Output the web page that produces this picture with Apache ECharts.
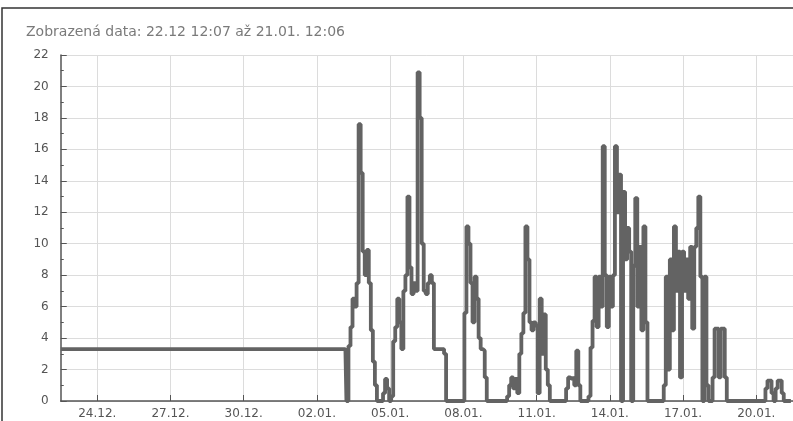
<!DOCTYPE html>
<html>
<head>
<meta charset="utf-8">
<script src="https://cdn.jsdelivr.net/npm/echarts@6/dist/echarts.min.js"></script>
<style>
html,body{margin:0;padding:0;background:#fff;}
#c{width:793px;height:421px;}
</style>
</head>
<body>
<div id="c"></div>
<script>
// Days are counted from 24.12. 00:00
const titleText = 'Zobrazená data: 22.12 12:07 až 21.01. 12:06';
const rangeStartDay = -1.495;   // 22.12 12:07
const rangeEndDay = 28.504;     // 21.01. 12:06
const tickDays = [0, 3, 6, 9, 12, 15, 18, 21, 24, 27];
const tickLabels = ['24.12.', '27.12.', '30.12.', '02.01.', '05.01.', '08.01.', '11.01.', '14.01.', '17.01.', '20.01.'];
const yTicks = [0, 2, 4, 6, 8, 10, 12, 14, 16, 18, 20, 22];

// flat period before measurements
const flatValue = 3.3;
// measured values, one every 2 hours from 03.01. 00:00 (day 10)
const sampleStartDay = 10;
const sampleStepHours = 2;
const values = [
  3.3, 3.3, 3.3, 0, 3.5, 4.7, 6.5, 6.0, 7.5, 17.6,
  14.5, 9.5, 8.0, 9.6, 7.5, 4.5, 2.5, 1.0, 0, 0,
  0, 0.5, 1.4, 0.8, 0, 0.3, 3.8, 4.7, 6.5, 5.0,
  3.3, 7.0, 8.0, 13.0, 8.5, 6.8, 7.5, 7.0, 20.9, 18.0,
  10.0, 7.0, 6.8, 7.5, 8.0, 7.5, 3.3, 3.3, 3.3, 3.3,
  3.3, 3.0, 0, 0, 0, 0, 0, 0, 0, 0,
  0, 5.6, 11.1, 10.0, 7.5, 5.0, 7.9, 6.5, 4.0, 3.3,
  3.2, 1.5, 0, 0, 0, 0, 0, 0, 0, 0,
  0, 0, 0.3, 1.0, 1.5, 0.8, 1.4, 0.5, 3.0, 4.3,
  5.6, 11.1, 9.0, 5.0, 4.5, 5.0, 4.8, 0.5, 6.5, 3.0,
  5.5, 2.0, 1.0, 0, 0, 0, 0, 0, 0, 0,
  0, 0.8, 1.5, 1.4, 1.5, 1.0, 3.2, 1.0, 0, 0,
  0, 0, 0.3, 3.4, 5.1, 7.9, 4.7, 7.9, 6.0, 16.2,
  8.0, 4.7, 7.9, 6.0, 8.0, 16.2, 12.0, 14.4, 0, 13.3,
  9.0, 11.0, 9.5, 0, 8.6, 12.9, 6.0, 9.8, 4.5, 11.1,
  5.0, 0, 0, 0, 0, 0, 0, 0, 0, 1.0,
  7.9, 2.0, 9.0, 4.5, 11.1, 7.0, 9.5, 1.5, 9.5, 7.0,
  9.0, 6.5, 9.8, 4.6, 9.8, 11.0, 13.0, 7.9, 0, 7.9,
  1.0, 0, 0, 1.5, 4.6, 4.6, 1.5, 4.6, 4.6, 1.5,
  0, 0, 0, 0, 0, 0, 0, 0, 0, 0,
  0, 0, 0, 0, 0, 0, 0, 0, 0, 0.8,
  1.3, 1.3, 0.5, 0, 0.8, 1.3, 1.3, 0.5, 0, 0,
  0, 0
];

const seriesData = [[rangeStartDay, flatValue]];
values.forEach(function (v, i) {
  seriesData.push([sampleStartDay + i * sampleStepHours / 24, v]);
});

const chart = echarts.init(document.getElementById('c'), null, {renderer: 'canvas'});
const textColor = '#555';
const font = 'DejaVu Sans, Verdana, sans-serif';

chart.setOption({
  animation: false,
  backgroundColor: '#fff',
  title: {
    text: titleText,
    left: 21,
    top: 20,
    textStyle: {fontFamily: font, fontSize: 14, fontWeight: 'normal', color: '#7a7a7a'}
  },
  graphic: [{
    type: 'rect',
    shape: {x: 2, y: 8, width: 800, height: 430},
    style: {fill: null, stroke: '#333', lineWidth: 1.5},
    silent: true,
    z: 100
  }],
  grid: {left: 60.75, top: 55, width: 733.5, height: 346, containLabel: false},
  xAxis: {
    type: 'value',
    min: rangeStartDay,
    max: rangeEndDay,
    axisLine: {show: true, onZero: false, lineStyle: {color: '#555', width: 1.5}},
    axisTick: {show: true, inside: true, length: 6, customValues: tickDays, lineStyle: {color: '#555'}},
    axisLabel: {
      customValues: tickDays,
      margin: 7,
      color: textColor,
      fontFamily: font,
      fontSize: 12,
      formatter: function (v) {
        const idx = tickDays.indexOf(Math.round(v));
        return idx >= 0 ? tickLabels[idx] : '';
      }
    },
    splitLine: {show: true, lineStyle: {color: '#dcdcdc', width: 1}}
  },
  yAxis: {
    type: 'value',
    min: yTicks[0],
    max: yTicks[yTicks.length - 1],
    interval: 2,
    axisLine: {show: true, onZero: false, lineStyle: {color: '#555', width: 1.5}},
    axisTick: {show: true, inside: true, length: 6, lineStyle: {color: '#555'}},
    minorTick: {show: true, splitNumber: 2, length: 3, lineStyle: {color: '#555'}},
    axisLabel: {margin: 12, color: textColor, fontFamily: font, fontSize: 12},
    splitLine: {show: true, lineStyle: {color: '#dcdcdc', width: 1}}
  },
  series: [{
    type: 'line',
    data: seriesData,
    step: 'middle',
    symbol: 'none',
    clip: true,
    lineStyle: {color: '#636363', width: 3.8}
  }]
});
</script>
</body>
</html>
